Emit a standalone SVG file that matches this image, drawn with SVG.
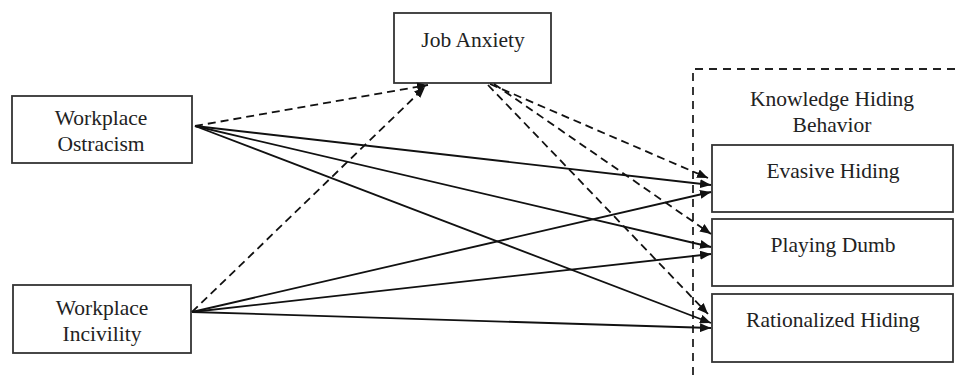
<svg xmlns="http://www.w3.org/2000/svg" width="958" height="375" viewBox="0 0 958 375">
<style>
.box{fill:#fff;stroke:#333;stroke-width:1.8}
.t{font-family:"Liberation Serif","Times New Roman",serif;font-size:21.5px;fill:#222;text-anchor:middle}
.s{fill:none;stroke:#111;stroke-width:1.8;marker-end:url(#ah)}
.d{fill:none;stroke:#111;stroke-width:1.8;stroke-dasharray:8,5;marker-end:url(#ah)}
.grp{fill:none;stroke:#222;stroke-width:1.8;stroke-dasharray:8,6}
</style>
<defs>
<marker id="ah" viewBox="0 0 11 9" refX="11" refY="4.5" markerWidth="11" markerHeight="9" markerUnits="userSpaceOnUse" orient="auto">
<path d="M0,0 L11,4.5 L0,9 z" fill="#111"/>
</marker>
</defs>
<rect width="958" height="375" fill="#fff"/>
<g id="group-khb">
<path class="grp" d="M693,375 L693,69 L958,69"/>
<text class="t" x="832" y="106">Knowledge Hiding</text>
<text class="t" x="832" y="132">Behavior</text>
</g>
<g id="node-wo">
<rect class="box" x="12" y="96" width="180" height="67"/>
<text class="t" x="101" y="125">Workplace</text>
<text class="t" x="101" y="151">Ostracism</text>
</g>
<g id="node-wi">
<rect class="box" x="13" y="285" width="178" height="68"/>
<text class="t" x="102" y="315">Workplace</text>
<text class="t" x="102" y="341">Incivility</text>
</g>
<g id="node-ja">
<rect class="box" x="394" y="13" width="157" height="70"/>
<text class="t" x="473" y="47">Job Anxiety</text>
</g>
<g id="node-eh">
<rect class="box" x="712" y="145" width="241" height="67"/>
<text class="t" x="833" y="178">Evasive Hiding</text>
</g>
<g id="node-pd">
<rect class="box" x="712" y="219" width="241" height="67"/>
<text class="t" x="833" y="252">Playing Dumb</text>
</g>
<g id="node-rh">
<rect class="box" x="712" y="294" width="241" height="68"/>
<text class="t" x="833" y="327">Rationalized Hiding</text>
</g>
<g id="connectors">
<path class="d" d="M195,126 L428,85"/>
<path class="d" d="M192,312 L425,87"/>
<path class="d" d="M490,84 L708,178"/>
<path class="d" d="M494,84 L711,234"/>
<path class="d" d="M488,85 L708,314"/>
<path class="s" d="M195,126 L711,185"/>
<path class="s" d="M195,126 L711,247"/>
<path class="s" d="M195,126 L711,323"/>
<path class="s" d="M192,312 L711,192"/>
<path class="s" d="M192,312 L711,254"/>
<path class="s" d="M192,312 L711,328"/>
</g>
</svg>
